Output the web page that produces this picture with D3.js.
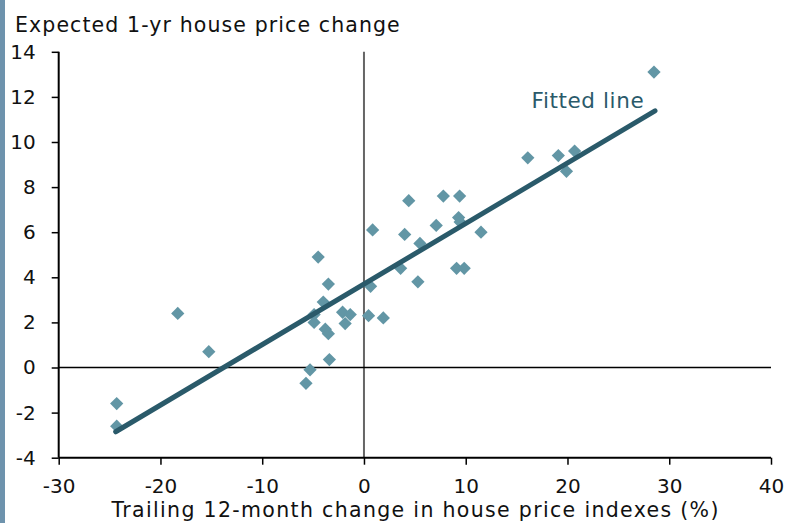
<!DOCTYPE html>
<html>
<head>
<meta charset="utf-8">
<script src="https://cdn.jsdelivr.net/npm/d3@7"></script>
<style>
  html, body { margin: 0; padding: 0; background: #fff; }
  svg { display: block; }
  text { font-family: "DejaVu Sans", Verdana, sans-serif; }
</style>
</head>
<body>
<svg id="chart" width="794" height="523"></svg>
<script>
// ---- data ----
const pointX = [-24.3, -24.3, -18.3, -15.25, -5.7, -5.3, -3.4, -4.5, -3.5, -4.0, -4.9, -4.9, -3.8, -3.5, -2.1, -1.35, -1.85, 0.45, 1.9, 0.65, 0.85, 3.6, 5.3, 4.0, 5.5, 4.4, 7.1, 7.8, 9.4, 9.3, 9.45, 9.1, 9.85, 11.5, 16.1, 19.1, 20.7, 19.9, 28.5];
const pointY = [-1.6, -2.6, 2.4, 0.7, -0.7, -0.1, 0.35, 4.9, 3.7, 2.9, 2.35, 2.0, 1.7, 1.5, 2.45, 2.35, 1.95, 2.3, 2.2, 3.6, 6.1, 4.4, 3.8, 5.9, 5.5, 7.4, 6.3, 7.6, 7.6, 6.65, 6.45, 4.4, 4.4, 6.0, 9.3, 9.4, 9.6, 8.7, 13.1];
const fitX = [-24.4, 28.6];
const fitY = [-2.85, 11.38];
const xTicks = [-30, -20, -10, 0, 10, 20, 30, 40];
const yTicks = [-4, -2, 0, 2, 4, 6, 8, 10, 12, 14];
const yTitle = "Expected 1-yr house price change";
const xTitle = "Trailing 12-month change in house price indexes (%)";
const fitLabel = "Fitted line";

// ---- chart ----
const svg = d3.select("#chart");
const x = d3.scaleLinear().domain([-30, 40]).range([58.7, 771]);
const y = d3.scaleLinear().domain([-4, 14]).range([457.7, 51.8]);

// left accent bar
svg.append("rect").attr("x", 0).attr("y", 0).attr("width", 5).attr("height", 523).attr("fill", "#6e93ad");

// zero lines
svg.append("line").attr("x1", x(0)).attr("x2", x(0)).attr("y1", y(14)).attr("y2", y(-4))
  .attr("stroke", "#666").attr("stroke-width", 2);
svg.append("line").attr("x1", x(-30)).attr("x2", x(40)).attr("y1", y(0)).attr("y2", y(0))
  .attr("stroke", "#000").attr("stroke-width", 1.3);

// axes
const fmt = d => String(d);
const xAxis = d3.axisBottom(x).tickValues(xTicks).tickSize(7).tickPadding(14).tickFormat(fmt);
const yAxis = d3.axisLeft(y).tickValues(yTicks).tickSize(7).tickPadding(16).tickFormat(fmt);
const gx = svg.append("g").attr("transform", `translate(0,${y(-4)})`).call(xAxis);
const gy = svg.append("g").attr("transform", `translate(${x(-30)},0)`).call(yAxis);
[gx, gy].forEach(g => {
  g.select(".domain").attr("stroke", "#000").attr("stroke-width", 2);
  g.selectAll(".tick line").attr("stroke", "#000").attr("stroke-width", 1.5);
  g.selectAll(".tick text").attr("fill", "#111").style("font-size", "20px").style("font-family", "DejaVu Sans");
});
gx.select(".domain").attr("d", `M${x(-30)},0H${x(40)}`);
gy.select(".domain").attr("d", `M0,${y(14)}V${y(-4)}`);

// points
const diamond = d3.symbol().type(d3.symbolDiamond2).size(112);
svg.append("g").selectAll("path").data(pointX.map((v, i) => [v, pointY[i]])).join("path")
  .attr("d", diamond)
  .attr("transform", d => `translate(${x(d[0])},${y(d[1])})`)
  .attr("fill", "#6296a5");

// fitted line
svg.append("line")
  .attr("x1", x(fitX[0])).attr("y1", y(fitY[0]))
  .attr("x2", x(fitX[1])).attr("y2", y(fitY[1]))
  .attr("stroke", "#2a5a6a").attr("stroke-width", 5).attr("stroke-linecap", "round");

// labels
svg.append("text").attr("x", 15).attr("y", 31.5).attr("fill", "#111")
  .style("font-size", "20.5px").style("letter-spacing", "1.1px").text(yTitle);
svg.append("text").attr("x", 111.5).attr("y", 516.5).attr("fill", "#111")
  .style("font-size", "20.5px").style("letter-spacing", "1.33px").text(xTitle);
svg.append("text").attr("x", 531.5).attr("y", 108).attr("fill", "#2a5a6a")
  .style("font-size", "21.5px").style("letter-spacing", "0.6px").text(fitLabel);
</script>
</body>
</html>
